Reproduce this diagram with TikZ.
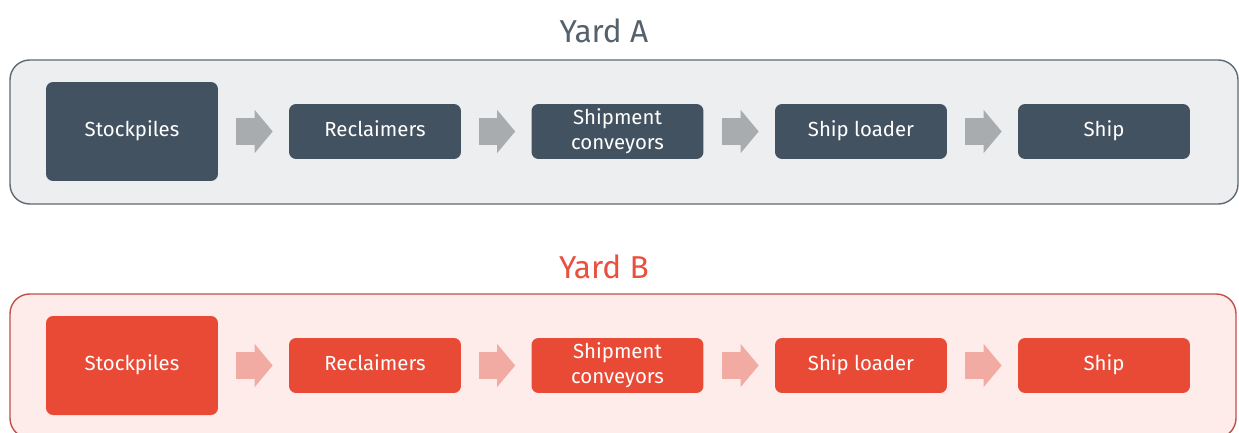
\documentclass[tikz,border=0pt]{standalone}
\usepackage{fontspec}
\setmainfont{Fira Sans}
\usetikzlibrary{arrows.meta}
\definecolor{slatebox}{HTML}{435261}
\definecolor{slateframe}{HTML}{5E6A74}
\definecolor{slatefill}{HTML}{ECEEF0}
\definecolor{slatearrow}{HTML}{A9ACAF}
\definecolor{slatetitle}{HTML}{55616C}
\definecolor{redbox}{HTML}{E84A36}
\definecolor{redframe}{HTML}{C0504A}
\definecolor{redfill}{HTML}{FDECEA}
\definecolor{redarrow}{HTML}{F2ABA3}
\definecolor{redtitle}{HTML}{E8513F}
\tikzset{
  yardframe/.style 2 args={draw=#1,fill=#2,line width=1pt,rounded corners=14pt},
  yardtitle/.style={inner sep=0pt,text=#1,font=\fontsize{22.5}{27}\selectfont},
  stepbox/.style={fill=#1,text=white,rounded corners=5pt,inner sep=0pt,align=center,
    minimum width=122.3pt,minimum height=39.1pt,text height=10.6pt,text depth=3.2pt,
    font=\fontsize{14.5}{17.8}\selectfont},
  twoline/.style={text height={},text depth={}},
  bigbox/.style={minimum height=70.4pt},
  flow/.style={draw=#1,line width=19pt,-{Triangle[length=12.8pt,width=29.9pt]},
    shorten <=12.8pt,shorten >=11.4pt}
}
\begin{document}
\begin{tikzpicture}[x=0.025cm,y=-0.025cm]
\clip (0,0) rectangle (1239,433);
% Yard A
\begin{scope}[shift={(0,0)}]
\node[yardtitle=slatetitle] (titleA) at (604,31) {Yard A};
\draw[yardframe={slateframe}{slatefill}] (10,60) rectangle (1238,204);
\node[stepbox=slatebox,bigbox] (stockA) at (132,131.5) {Stockpiles};
\node[stepbox=slatebox] (reclA) at (375,131.5) {Reclaimers};
\node[stepbox=slatebox,twoline] (convA) at (617.5,131.5) {Shipment\\conveyors};
\node[stepbox=slatebox] (loadA) at (861,131.5) {Ship loader};
\node[stepbox=slatebox] (shipA) at (1104,131.5) {Ship};
\draw[flow=slatearrow] (stockA) -- (reclA);
\draw[flow=slatearrow] (reclA) -- (convA);
\draw[flow=slatearrow] (convA) -- (loadA);
\draw[flow=slatearrow] (loadA) -- (shipA);
\end{scope}
% Yard B
\begin{scope}[shift={(0,234)}]
\node[yardtitle=redtitle] (titleB) at (604,33) {Yard B};
\draw[yardframe={redframe}{redfill}] (10,60) rectangle (1236,204);
\node[stepbox=redbox,bigbox] (stockB) at (132,131.5) {Stockpiles};
\node[stepbox=redbox] (reclB) at (375,131.5) {Reclaimers};
\node[stepbox=redbox,twoline] (convB) at (617.5,131.5) {Shipment\\conveyors};
\node[stepbox=redbox] (loadB) at (861,131.5) {Ship loader};
\node[stepbox=redbox] (shipB) at (1104,131.5) {Ship};
\draw[flow=redarrow] (stockB) -- (reclB);
\draw[flow=redarrow] (reclB) -- (convB);
\draw[flow=redarrow] (convB) -- (loadB);
\draw[flow=redarrow] (loadB) -- (shipB);
\end{scope}
\end{tikzpicture}
\end{document}
